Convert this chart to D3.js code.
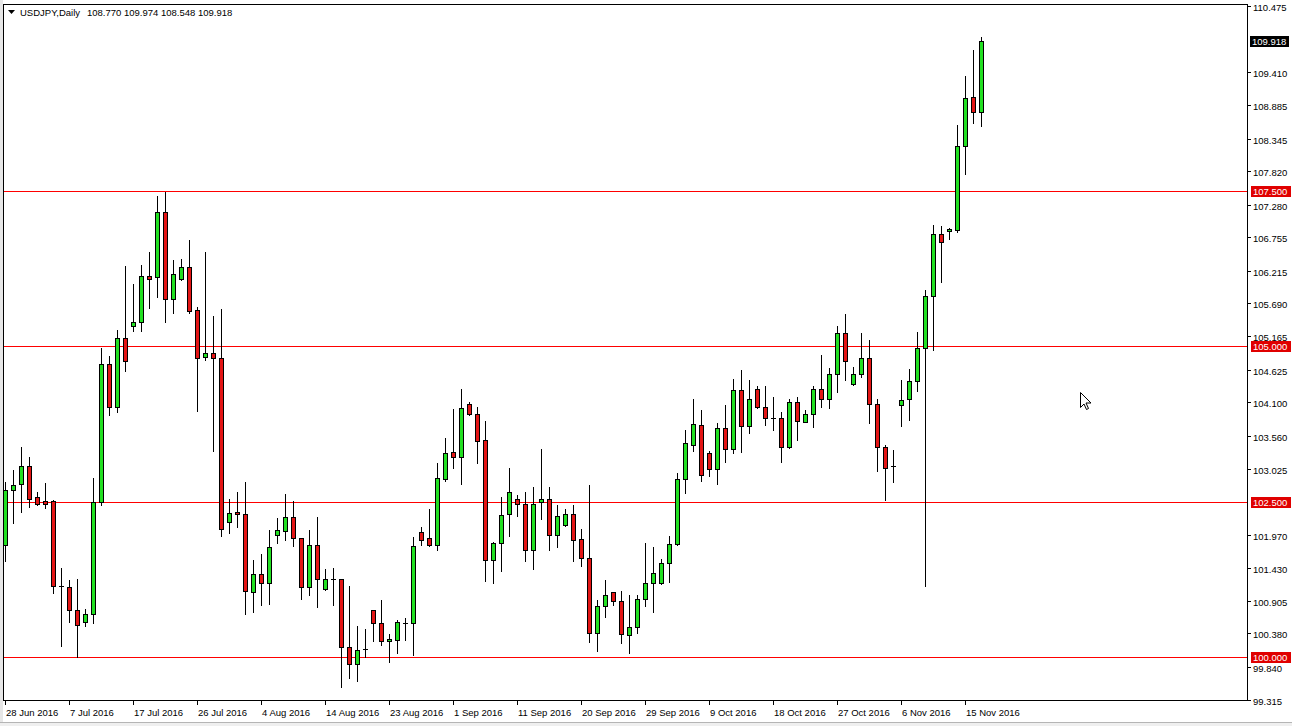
<!DOCTYPE html>
<html>
<head>
<meta charset="utf-8">
<script src="https://cdn.jsdelivr.net/npm/d3@7/dist/d3.min.js"></script>
<style>
  html, body { margin: 0; padding: 0; background: #ffffff; }
  svg { display: block; }
  text { font-family: "Liberation Sans", Arial, sans-serif; font-size: 9.5px; fill: #000; }
</style>
</head>
<body>
<svg id="chart" width="1292" height="726"></svg>
<script>
// ---------- DATA (USDJPY, Daily) ----------
const symbolTitle = "USDJPY,Daily";
const lastBarText = "108.770 109.974 108.548 109.918";

const opens = [101.80,102.68,102.78,103.07,102.57,102.51,102.51,101.15,101.12,100.75,
100.57,100.69,102.49,104.71,104.03,105.13,105.32,105.39,106.14,106.11,
107.17,105.77,106.09,106.27,105.58,104.83,104.90,104.81,102.18,102.33,
102.30,101.05,101.33,101.19,101.96,102.03,102.26,101.91,101.12,101.81,
101.10,101.25,101.25,100.16,99.88,100.13,100.76,100.54,100.25,100.28,
100.55,100.54,102.01,101.91,101.81,102.86,103.30,103.22,104.07,103.91,
103.49,101.56,101.83,102.30,102.54,102.46,101.72,102.50,102.54,101.97,
102.12,102.30,101.90,101.60,100.38,100.82,101.04,100.90,100.35,100.48,
100.93,101.19,101.19,101.52,101.82,102.86,103.42,103.73,103.28,103.02,
103.68,103.34,104.29,103.72,104.32,104.02,103.84,103.84,103.38,104.10,
103.79,103.91,104.31,104.15,104.55,105.21,104.39,104.55,104.81,104.07,
103.38,103.07,104.06,104.15,104.44,104.98,105.81,106.81,106.86,106.88,
108.22,109.01,108.770];

const highs = [102.82,103.01,103.38,103.22,102.65,102.80,102.52,101.44,101.24,101.25,
100.78,102.88,104.97,104.84,105.26,106.29,106.00,106.31,106.52,107.42,
107.48,106.39,106.41,106.71,105.63,106.52,105.49,105.60,102.54,102.66,
102.82,101.56,101.66,102.04,102.23,102.63,102.51,101.92,102.04,102.25,
101.41,101.44,101.26,101.15,100.50,100.45,100.76,100.92,100.37,100.60,
100.62,101.93,102.10,102.38,103.12,103.52,103.99,104.31,104.11,104.03,
103.80,101.85,102.58,103.04,102.61,102.65,102.73,103.35,102.74,102.45,
102.39,102.45,102.06,102.77,100.92,101.24,101.05,101.06,100.99,101.00,
101.84,101.77,101.57,101.94,102.96,103.65,104.15,103.98,103.32,103.76,
104.06,104.47,104.62,104.46,104.36,104.36,104.19,103.94,104.15,104.19,
103.98,104.36,104.86,104.65,105.33,105.52,104.66,105.21,105.10,104.15,
103.42,103.33,104.46,104.63,105.23,105.91,106.95,106.93,106.91,108.57,
109.35,109.77,109.974];

const lows = [101.55,102.15,102.34,102.42,102.44,102.40,101.03,100.18,100.56,100.00,
100.50,100.54,102.44,103.89,103.95,104.61,105.25,105.25,105.62,105.80,
105.40,105.54,106.07,105.54,103.96,104.78,103.32,101.95,101.99,102.10,
100.69,100.73,100.84,100.86,101.84,101.88,101.78,100.94,101.00,100.81,
101.08,100.84,99.52,99.67,99.62,100.00,100.26,100.20,99.92,100.07,
100.28,100.04,101.81,101.78,101.73,102.84,103.04,102.78,103.90,103.13,
101.23,101.19,101.39,101.95,102.27,101.55,101.41,102.22,101.73,101.77,
102.11,101.55,101.46,100.24,100.09,100.65,100.83,100.23,100.07,100.39,
100.82,100.73,101.17,101.20,101.81,102.64,103.32,102.84,102.91,102.78,
103.14,103.28,103.30,103.61,104.01,103.73,103.65,103.14,103.37,103.50,
103.78,103.71,104.03,104.00,104.27,104.46,104.38,104.50,103.77,103.00,
102.53,102.81,103.72,103.82,104.28,101.15,104.94,106.03,106.72,106.84,
107.77,108.60,108.548];

const closes = [102.68,102.77,103.07,102.54,102.47,102.47,101.15,101.12,100.75,100.51,
100.69,102.49,104.71,104.02,105.13,104.77,105.39,106.14,106.09,107.17,
105.77,106.16,106.27,105.57,104.82,104.90,104.81,102.06,102.32,102.30,
101.07,101.33,101.19,101.77,102.04,102.26,101.91,101.12,101.81,101.25,
101.25,101.25,100.16,99.88,100.12,100.13,100.54,100.26,100.29,100.56,
100.55,101.78,101.89,101.81,102.88,103.29,103.22,104.00,103.91,103.48,
101.56,101.83,102.28,102.66,102.46,101.72,102.47,102.54,101.97,102.27,
102.30,101.89,101.59,100.38,100.82,101.00,100.90,100.37,100.48,100.93,
101.19,101.36,101.52,101.82,102.86,103.44,103.75,102.93,103.02,103.68,
103.34,104.29,103.72,104.15,104.02,103.84,103.84,103.38,104.10,103.80,
103.91,104.31,104.15,104.55,105.21,104.77,104.55,104.81,104.07,103.38,
103.05,103.07,104.13,104.44,104.98,105.81,106.81,106.68,106.89,108.22,
108.99,108.78,109.918];

// date labels every 8 bars, starting at bar 0
const dateLabels = ["28 Jun 2016","7 Jul 2016","17 Jul 2016","26 Jul 2016","4 Aug 2016",
"14 Aug 2016","23 Aug 2016","1 Sep 2016","11 Sep 2016","20 Sep 2016","29 Sep 2016",
"9 Oct 2016","18 Oct 2016","27 Oct 2016","6 Nov 2016","15 Nov 2016"];
const dateLabelStep = 8;

const priceTicks = ["110.475","109.410","108.885","108.345","107.820","107.280","106.755",
"106.215","105.690","105.165","104.625","104.100","103.560","103.025","101.970","101.430",
"100.905","100.380","99.840","99.315"];

const levelLines = [107.5, 105.0, 102.5, 100.0];
const levelLabels = ["107.500","105.000","102.500","100.000"];
const bidValue = 109.918;
const bidLabel = "109.918";

// ---------- LAYOUT ----------
const W = 1292, H = 726;
const frame = {left: 3.5, top: 4.5, right: 1247.5, bottom: 700.5};
const svg = d3.select("#chart").attr("shape-rendering", "crispEdges");

const x = d3.scaleLinear().domain([0, opens.length - 1]).range([5, 5 + 8 * (opens.length - 1)]);
const y = d3.scaleLinear().domain([99.315, 110.475]).range([699.56, 6.2]);

// outer window background
svg.append("rect").attr("x", 0).attr("y", 0).attr("width", W).attr("height", H).attr("fill", "#ffffff");
svg.append("rect").attr("x", 0).attr("y", 0).attr("width", 3).attr("height", H).attr("fill", "#e6e6e6");
svg.append("rect").attr("x", 0).attr("y", 722).attr("width", W).attr("height", 4).attr("fill", "#efefef");
svg.append("rect").attr("x", 0).attr("y", 722).attr("width", W).attr("height", 1).attr("fill", "#b5b5b5");

// level lines (behind candles) drawn as 1px filled rows
const gLevels = svg.append("g");
levelLines.forEach(v => {
  const yy = Math.round(y(v));
  gLevels.append("rect").attr("x", 4).attr("y", yy).attr("width", 1243).attr("height", 1)
    .attr("fill", "#ff0000");
});

// candles
const data = opens.map((o, i) => ({i, o, h: highs[i], l: lows[i], c: closes[i]}));
const gC = svg.append("g");
data.forEach(d => {
  const cx = Math.round(x(d.i));
  const yH = Math.round(y(d.h)), yL = Math.round(y(d.l));
  gC.append("rect").attr("x", cx).attr("y", yH).attr("width", 1).attr("height", Math.max(1, yL - yH + 1))
    .attr("fill", "#000");
  const yO = Math.round(y(d.o)), yCl = Math.round(y(d.c));
  const top = Math.min(yO, yCl), bot = Math.max(yO, yCl);
  if (bot - top < 2) {
    gC.append("rect").attr("x", cx - 2).attr("y", top).attr("width", 5).attr("height", Math.max(1, bot - top))
      .attr("fill", "#000");
  } else {
    gC.append("rect").attr("x", cx - 2).attr("y", top).attr("width", 5).attr("height", bot - top + 1)
      .attr("fill", "#000");
    gC.append("rect").attr("x", cx - 1).attr("y", top + 1).attr("width", 3).attr("height", bot - top - 1)
      .attr("fill", d.c >= d.o ? "#22e022" : "#e31515");
  }
});

// frame
svg.append("rect").attr("x", frame.left).attr("y", frame.top)
  .attr("width", frame.right - frame.left).attr("height", frame.bottom - frame.top)
  .attr("fill", "none").attr("stroke", "#000").attr("stroke-width", 1);

// right price axis
const gY = svg.append("g");
priceTicks.forEach(t => {
  const yy = Math.round(y(+t));
  gY.append("rect").attr("x", 1247).attr("y", yy).attr("width", 4).attr("height", 1).attr("fill", "#000");
  gY.append("text").attr("x", 1253).attr("y", yy + 4.5).text(t);
});

// level labels (red boxes)
levelLines.forEach((v, i) => {
  const yy = Math.round(y(v));
  gY.append("rect").attr("x", 1251).attr("y", yy - 5).attr("width", 40).attr("height", 11).attr("fill", "#e00000");
  gY.append("text").attr("x", 1253).attr("y", yy + 4).style("fill", "#ffffff").text(levelLabels[i]);
});
// bid label (black box)
{
  const yy = Math.round(y(bidValue));
  gY.append("rect").attr("x", 1250).attr("y", yy - 5).attr("width", 39).attr("height", 11).attr("fill", "#000");
  gY.append("text").attr("x", 1252).attr("y", yy + 4).style("fill", "#ffffff").text(bidLabel);
}

// bottom time axis
const gX = svg.append("g");
dateLabels.forEach((lab, j) => {
  const cx = Math.round(x(j * dateLabelStep));
  gX.append("rect").attr("x", cx).attr("y", 700).attr("width", 1).attr("height", 5).attr("fill", "#000");
  gX.append("text").attr("x", cx + 1).attr("y", 716).text(lab);
});

// header
svg.append("path").attr("d", "M8,10 L15,10 L11.5,14 Z").attr("fill", "#000").attr("shape-rendering", "auto");
svg.append("text").attr("x", 20).attr("y", 16).text(symbolTitle);
svg.append("text").attr("x", 87).attr("y", 16).text(lastBarText);

// mouse cursor
svg.append("path").attr("transform", "translate(1080.5,392.5)").attr("shape-rendering", "auto")
  .attr("d", "M0,0 L0,15 L3.5,11.5 L6,17 L8,16 L5.5,10.5 L10.5,10.5 Z")
  .attr("fill", "#ffffff").attr("stroke", "#000").attr("stroke-width", 1);
</script>
</body>
</html>
